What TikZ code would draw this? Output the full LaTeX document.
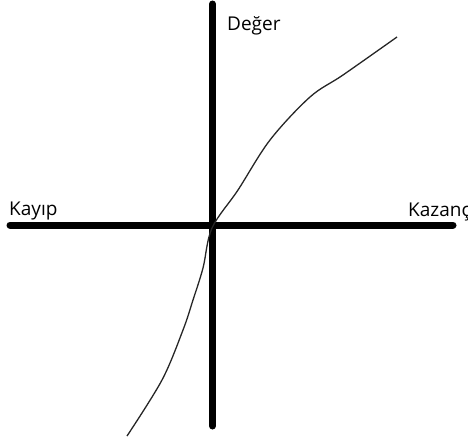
\documentclass[tikz,border=0pt]{standalone}
\usepackage{fontspec}
\setmainfont{Open Sans}
\begin{document}
\begin{tikzpicture}[x=1pt,y=-1pt,
  axis/.style={line width=7pt,line cap=round,black},
  curve/.style={line width=1.3pt,black!85},
  lbl/.style={anchor=base west,inner sep=0pt,font=\fontsize{19}{22}\selectfont}]
\useasboundingbox (0,0) rectangle (468,439);
\draw[axis] (212.5,4) -- (212.5,426);
\draw[axis] (10,225) -- (453,225);
\draw[curve] plot[smooth,tension=0.55] coordinates {(127,436) (162,380) (183,330) (193,300) (203,268) (212,228) (238,190) (270,140) (310,97) (343,75) (397,37)};
\node[lbl] (deger) at (227,30) {Değer};
\node[lbl] (kayip) at (9,215) {Kayıp};
\node[lbl] (kazanc) at (408,216) {Kazanç};
\end{tikzpicture}
\end{document}
